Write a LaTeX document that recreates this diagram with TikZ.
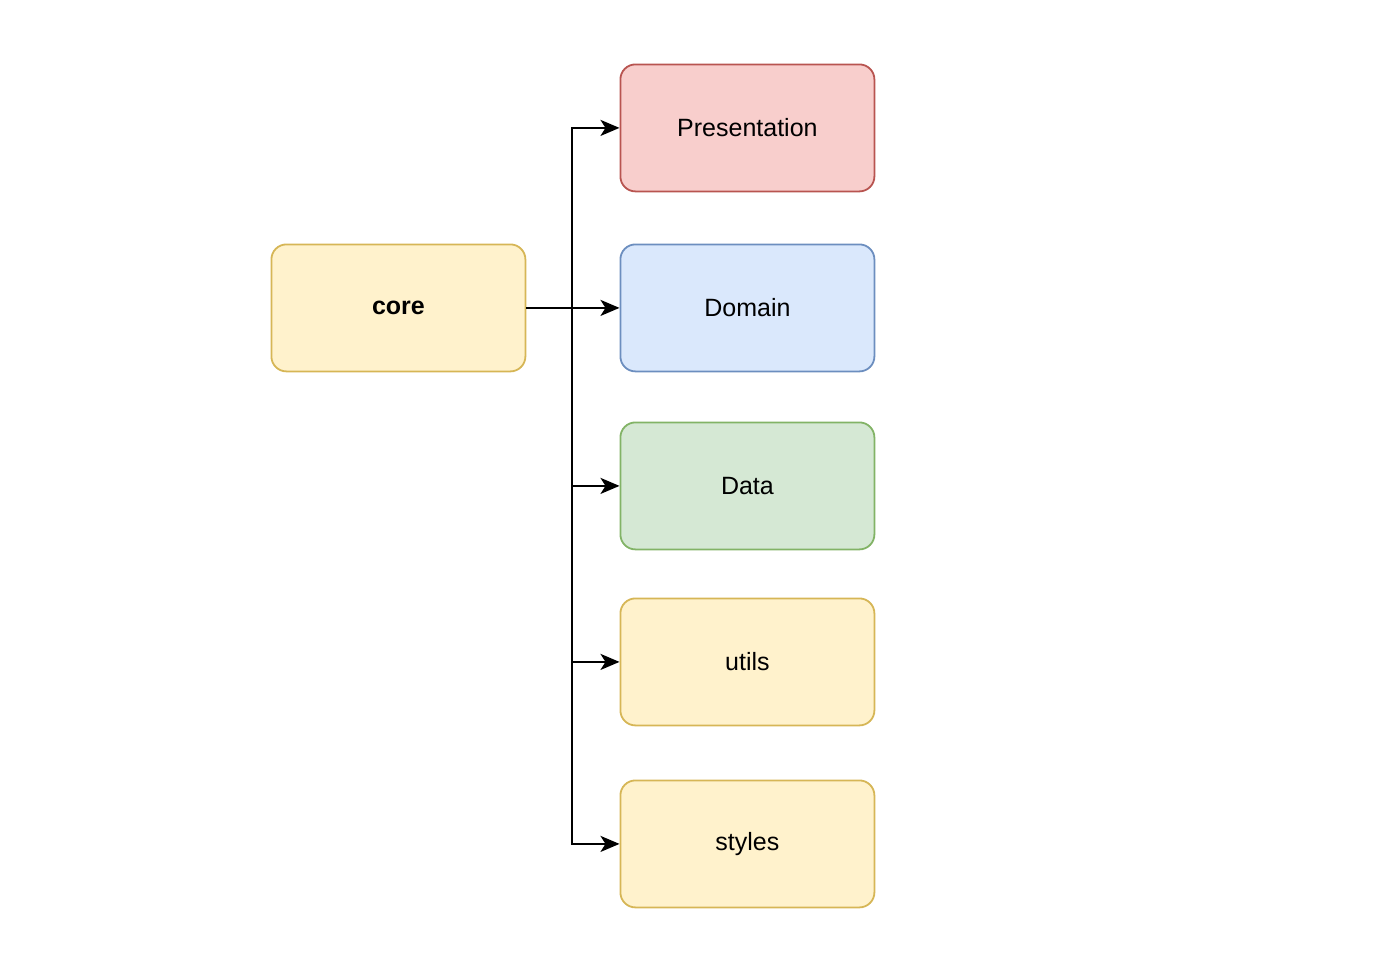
\documentclass[tikz,border=0pt]{standalone}
\usepackage{fontspec}
\setmainfont{Liberation Sans}
\usetikzlibrary{arrows.meta}
\definecolor{redfill}{HTML}{F8CECC}\definecolor{redline}{HTML}{B85450}
\definecolor{bluefill}{HTML}{DAE8FC}\definecolor{blueline}{HTML}{6C8EBF}
\definecolor{greenfill}{HTML}{D5E8D4}\definecolor{greenline}{HTML}{82B366}
\definecolor{yellowfill}{HTML}{FFF2CC}\definecolor{yellowline}{HTML}{D6B656}
\begin{document}
\begin{tikzpicture}[x=1pt,y=-1pt,
  box/.style={draw, line width=1.8pt, rounded corners=15pt, minimum width=254pt, minimum height=127pt, inner sep=0pt, font=\fontsize{25}{29}\selectfont, anchor=north west},
  redbox/.style={box, fill=redfill, draw=redline},
  bluebox/.style={box, fill=bluefill, draw=blueline},
  greenbox/.style={box, fill=greenfill, draw=greenline},
  yellowbox/.style={box, fill=yellowfill, draw=yellowline},
  conn/.style={draw, line width=2.4pt, -{Stealth[length=19pt,width=16pt,inset=5pt]}}]
\useasboundingbox (0,0) rectangle (1400,970);
\node[yellowbox, font=\fontsize{25}{29}\selectfont\bfseries] (core) at (270.5,243.5) {core};
\node[redbox] (pres) at (619.5,63.5) {Presentation};
\node[bluebox] (dom) at (619.5,243.5) {Domain};
\node[greenbox] (data) at (619.5,421.5) {Data};
\node[yellowbox] (utils) at (619.5,597.5) {utils};
\node[yellowbox] (styles) at (619.5,779.5) {styles};
\coordinate (bus) at (572,0);
\foreach \t in {pres,dom,data,utils,styles}
  \draw[conn] (core.east) -- (core.east -| bus) |- (\t.west);
\end{tikzpicture}
\end{document}
